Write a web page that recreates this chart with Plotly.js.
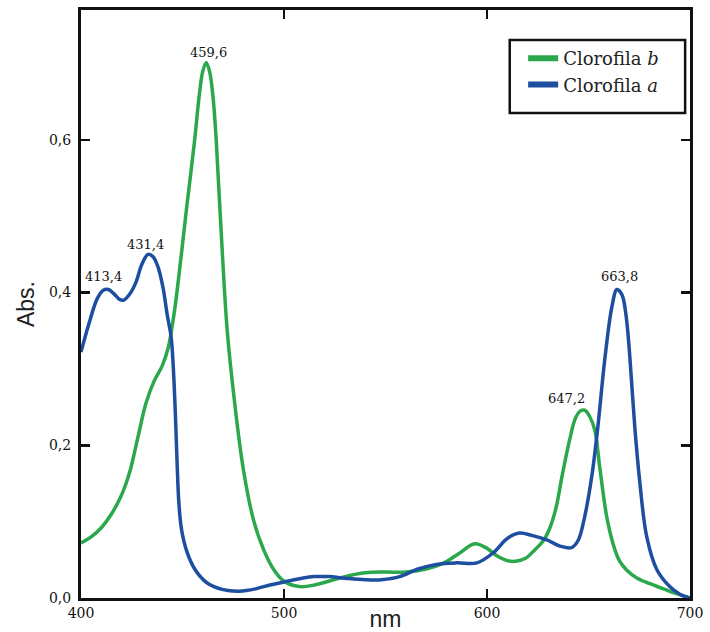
<!DOCTYPE html>
<html>
<head>
<meta charset="utf-8">
<script src="https://cdn.plot.ly/plotly-3.0.1.min.js"></script>
<style>
  html, body { margin: 0; padding: 0; background: #fff; }
  #chart { width: 710px; height: 632px; }
</style>
</head>
<body>
<div id="chart"></div>
<script>
// Clorofila a (blue)
var nmA = [400, 404, 408, 411, 413.5, 416, 419, 421, 424, 427, 430, 433, 435.5, 438, 440.5, 442.4, 444.4, 445.5, 446.5, 447.3, 448.2, 449.5, 452, 456, 462, 470, 478, 486, 493, 500, 507, 515, 522, 530, 540, 548, 557, 566, 575, 585, 595, 603, 610, 616, 622, 629.5, 636, 641.7, 645, 648, 651.6, 654.6, 658, 661.5, 664, 666.5, 668.5, 670.3, 672.8, 675.3, 678.7, 683.7, 690, 695, 700];
var absA = [0.322, 0.360, 0.392, 0.403, 0.404, 0.399, 0.391, 0.390, 0.398, 0.413, 0.437, 0.450, 0.447, 0.433, 0.405, 0.372, 0.342, 0.300, 0.240, 0.180, 0.125, 0.090, 0.062, 0.038, 0.020, 0.011, 0.009, 0.012, 0.017, 0.021, 0.025, 0.028, 0.028, 0.026, 0.024, 0.024, 0.028, 0.038, 0.044, 0.046, 0.046, 0.059, 0.078, 0.085, 0.082, 0.076, 0.068, 0.066, 0.076, 0.105, 0.159, 0.224, 0.312, 0.381, 0.404, 0.397, 0.370, 0.318, 0.224, 0.151, 0.080, 0.037, 0.015, 0.005, 0.0];

// Clorofila b (green)
var nmB = [400, 405, 410, 415, 420, 424, 428, 432, 436, 440, 443, 446, 449, 452, 456, 458.2, 460, 461.7, 463.3, 465, 466.6, 469, 472, 475.5, 480, 485, 490, 495, 500, 507.5, 515, 522, 530, 540, 550, 560, 570, 578, 586, 594, 600, 605, 610, 614, 619, 623.5, 628, 631, 634, 637, 640.7, 643.5, 646, 648.1, 650.5, 653.1, 655.5, 659, 662, 665, 669, 674, 680, 686, 693, 700];
var absB = [0.072, 0.080, 0.092, 0.110, 0.135, 0.165, 0.210, 0.255, 0.284, 0.304, 0.328, 0.375, 0.440, 0.510, 0.600, 0.657, 0.690, 0.701, 0.690, 0.657, 0.600, 0.482, 0.351, 0.260, 0.168, 0.102, 0.063, 0.037, 0.022, 0.015, 0.017, 0.022, 0.028, 0.033, 0.034, 0.034, 0.038, 0.045, 0.058, 0.071, 0.065, 0.055, 0.049, 0.048, 0.052, 0.063, 0.076, 0.092, 0.118, 0.160, 0.207, 0.235, 0.245, 0.246, 0.238, 0.220, 0.172, 0.106, 0.072, 0.050, 0.036, 0.026, 0.019, 0.013, 0.006, 0.0];

// Peak labels
var peakText = ['459,6', '431,4', '413,4', '647,2', '663,8'];
var peakX = [463, 432, 411.3, 639.3, 665.4];
var peakY = [0.714, 0.463, 0.421, 0.261, 0.421];

var xTicks = [400, 500, 600, 700];
var xTickText = ['400', '500', '600', '700'];
var yTicks = [0, 0.2, 0.4, 0.6];
var yTickText = ['0,0', '0,2', '0,4', '0,6'];

var seriesNames = ['Clorofila <i>b</i>', 'Clorofila <i>a</i>'];

var green = '#2ca84c';
var blue = '#1d4ea0';

var traces = [
  { x: nmB, y: absB, type: 'scatter', mode: 'lines', name: seriesNames[0], legendgroup: 'b', showlegend: false,
    line: { color: green, width: 3.5, shape: 'spline', smoothing: 1 } },
  { x: nmA, y: absA, type: 'scatter', mode: 'lines', name: seriesNames[1], legendgroup: 'a', showlegend: false,
    line: { color: blue, width: 3.5, shape: 'spline', smoothing: 1 } },
  // legend entries (thicker legend swatches, no data drawn)
  { x: [null], y: [null], type: 'scatter', mode: 'lines', name: seriesNames[0], legendgroup: 'b',
    line: { color: green, width: 6 } },
  { x: [null], y: [null], type: 'scatter', mode: 'lines', name: seriesNames[1], legendgroup: 'a',
    line: { color: blue, width: 6 } }
];

var annotations = peakText.map(function (t, i) {
  return { x: peakX[i], y: peakY[i], xref: 'x', yref: 'y', text: t, showarrow: false,
    font: { family: 'DejaVu Serif', size: 13, color: '#111' } };
});

var layout = {
  width: 710, height: 632,
  margin: { l: 81, r: 20, t: 10, b: 34 },
  paper_bgcolor: '#fff', plot_bgcolor: '#fff',
  showlegend: true,
  separators: ',.',
  xaxis: {
    range: [400, 700], tickmode: 'array', tickvals: xTicks, ticktext: xTickText,
    ticks: 'inside', ticklen: 9, tickwidth: 2.5, tickcolor: '#111',
    showline: true, linecolor: '#111', linewidth: 3, mirror: 'ticks',
    showgrid: false, zeroline: false,
    tickfont: { family: 'DejaVu Serif', size: 14, color: '#111' },
    title: { text: 'nm', font: { family: 'Liberation Sans', size: 23, color: '#222' }, standoff: 2 }
  },
  yaxis: {
    range: [0, 0.77], tickmode: 'array', tickvals: yTicks, ticktext: yTickText,
    ticks: 'inside', ticklen: 9, tickwidth: 2.5, tickcolor: '#111',
    showline: true, linecolor: '#111', linewidth: 3, mirror: 'ticks',
    showgrid: false, zeroline: false,
    ticklabelstandoff: 4,
    tickfont: { family: 'DejaVu Serif', size: 14, color: '#111' },
    title: { text: 'Abs.', font: { family: 'Liberation Sans', size: 23, color: '#222' }, standoff: 8 }
  },
  shapes: [
    { type: 'rect', xref: 'paper', yref: 'paper', x0: 0.704, x1: 0.992, y0: 0.825, y1: 0.949,
      line: { color: '#111', width: 2.5 }, fillcolor: 'rgba(0,0,0,0)', layer: 'above' }
  ],
  legend: {
    x: 0.726, y: 0.949, xanchor: 'left', yanchor: 'top',
    bgcolor: 'rgba(0,0,0,0)', borderwidth: 0,
    font: { family: 'DejaVu Serif', size: 18, color: '#222' },
    tracegroupgap: 0
  },
  annotations: annotations
};

Plotly.newPlot('chart', traces, layout, { staticPlot: true, displayModeBar: false });
</script>
</body>
</html>
